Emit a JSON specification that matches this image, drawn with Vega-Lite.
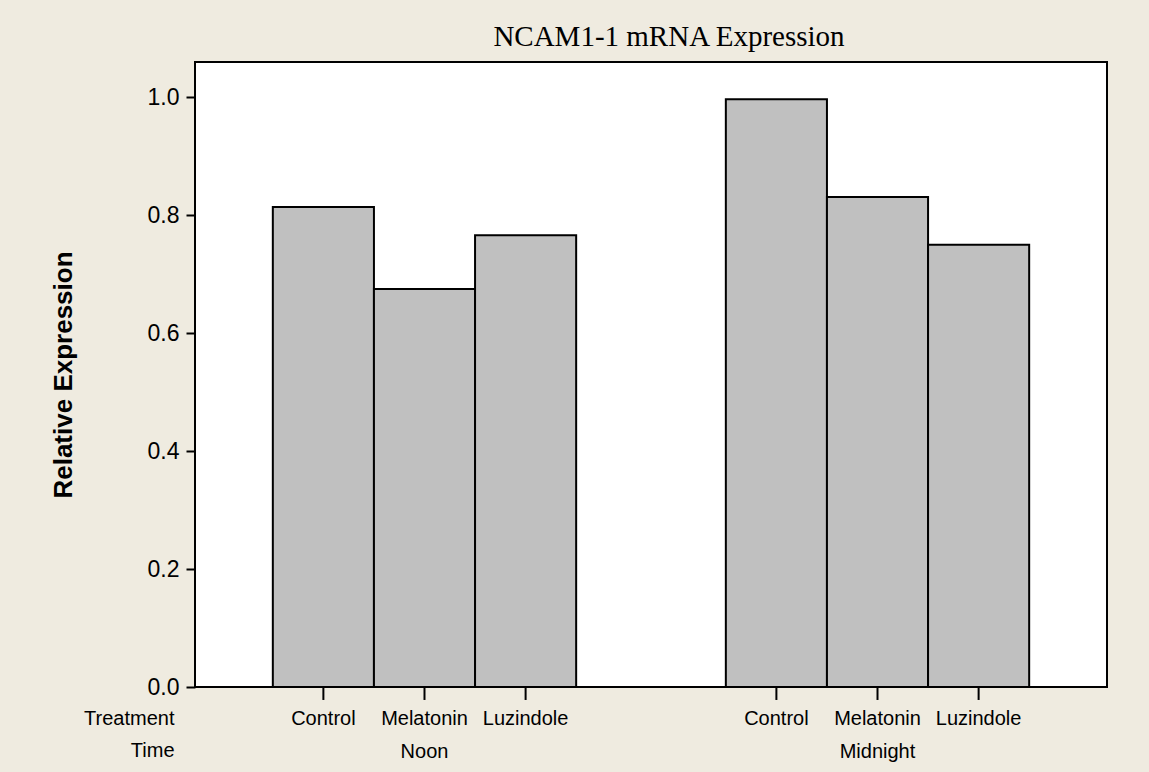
{
  "$schema": "https://vega.github.io/schema/vega-lite/v6.json",
  "width": 912,
  "height": 625,
  "autosize": {"type": "none"},
  "padding": {"left": 195, "top": 62, "right": 42, "bottom": 85},
  "background": "#EFEBE0",
  "title": {
    "text": "NCAM1-1 mRNA Expression",
    "font": "Liberation Serif",
    "fontSize": 29,
    "fontWeight": "normal",
    "color": "#000000",
    "anchor": "middle",
    "frame": "group",
    "baseline": "alphabetic",
    "offset": -13,
    "dx": 18
  },
  "data": {
    "values": [
      {"Time": "Noon", "Treatment": "Control", "Expression": 0.814},
      {"Time": "Noon", "Treatment": "Melatonin", "Expression": 0.675},
      {"Time": "Noon", "Treatment": "Luzindole", "Expression": 0.766},
      {"Time": "Midnight", "Treatment": "Control", "Expression": 0.997},
      {"Time": "Midnight", "Treatment": "Melatonin", "Expression": 0.831},
      {"Time": "Midnight", "Treatment": "Luzindole", "Expression": 0.75}
    ]
  },
  "encoding": {
    "x": {
      "field": "Time",
      "type": "nominal",
      "scale": {"domain": ["Noon", "Midnight"], "paddingInner": 0.3304, "paddingOuter": 0.1718},
      "axis": {
        "title": ["Treatment", "Time"],
        "titleX": -21,
        "titleY": 37.6,
        "titleAlign": "right",
        "titleBaseline": "alphabetic",
        "titleAngle": 0,
        "titleLineHeight": 32.4,
        "titleFont": "Liberation Sans",
        "titleFontSize": 20,
        "titleFontWeight": "normal",
        "titleColor": "#000000",
        "labelFont": "Liberation Sans",
        "labelFontSize": 20,
        "labelColor": "#000000",
        "labelBaseline": "alphabetic",
        "labelPadding": 70,
        "labelAngle": 0,
        "ticks": false,
        "tickSize": 0,
        "domain": false,
        "grid": false
      }
    },
    "xOffset": {
      "field": "Treatment",
      "type": "nominal",
      "scale": {"domain": ["Control", "Melatonin", "Luzindole"], "paddingInner": 0, "paddingOuter": 0}
    }
  },
  "layer": [
    {
      "mark": {"type": "bar", "fill": "#C0C0C0", "stroke": "#000000", "strokeWidth": 2},
      "encoding": {
        "y": {
          "field": "Expression",
          "type": "quantitative",
          "scale": {"domain": [0, 1.06], "nice": false, "zero": true},
          "axis": {
            "title": "Relative Expression",
            "titleFont": "Liberation Sans",
            "titleFontSize": 26,
            "titleFontWeight": "bold",
            "titleColor": "#000000",
            "titleX": -124,
            "titleBaseline": "alphabetic",
            "values": [0, 0.2, 0.4, 0.6, 0.8, 1.0],
            "format": ".1f",
            "labelFont": "Liberation Sans",
            "labelFontSize": 23,
            "labelColor": "#000000",
            "labelPadding": 7,
            "tickSize": 9,
            "tickColor": "#000000",
            "tickWidth": 2,
            "domain": false,
            "grid": false
          }
        }
      }
    },
    {
      "mark": {"type": "rule", "color": "#000000", "strokeWidth": 2},
      "encoding": {"y": {"datum": 0}, "y2": {"datum": -0.022}}
    },
    {
      "mark": {"type": "text", "baseline": "alphabetic", "align": "center", "dy": 38, "font": "Liberation Sans", "fontSize": 20, "color": "#000000"},
      "encoding": {"y": {"datum": 0}, "text": {"field": "Treatment"}}
    }
  ],
  "config": {"view": {"stroke": "#000000", "strokeWidth": 2, "fill": "#FFFFFF"}}
}
